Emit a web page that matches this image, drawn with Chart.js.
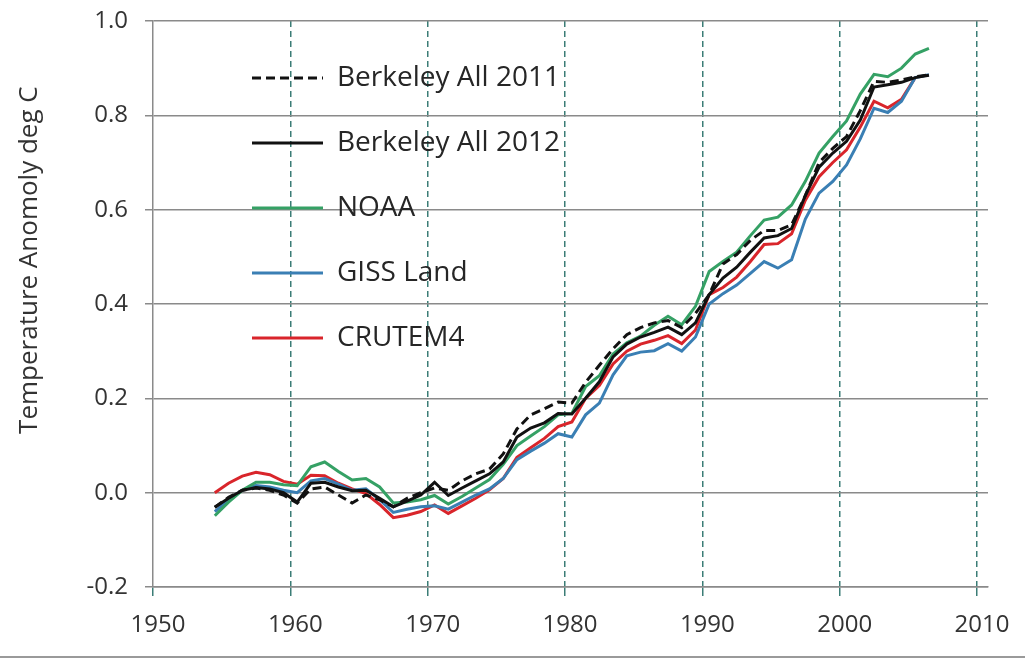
<!DOCTYPE html>
<html>
<head>
<meta charset="utf-8">
<script src="https://cdn.jsdelivr.net/npm/chart.js@4.4.0/dist/chart.umd.min.js"></script>
<style>
  body { margin: 0; background: #fff; }
  #quadro { width: 1025px; height: 656px; border-bottom: 2px solid #9a9a9a; }
</style>
</head>
<body>
<div id="quadro"><canvas id="grafico" width="1025" height="656"></canvas></div>
<script>
// anos (meio do ano) de 1954.5 a 2006.5
const anos = [
  1954.5, 1955.5, 1956.5, 1957.5, 1958.5, 1959.5, 1960.5, 1961.5, 1962.5, 1963.5,
  1964.5, 1965.5, 1966.5, 1967.5, 1968.5, 1969.5, 1970.5, 1971.5, 1972.5, 1973.5,
  1974.5, 1975.5, 1976.5, 1977.5, 1978.5, 1979.5, 1980.5, 1981.5, 1982.5, 1983.5,
  1984.5, 1985.5, 1986.5, 1987.5, 1988.5, 1989.5, 1990.5, 1991.5, 1992.5, 1993.5,
  1994.5, 1995.5, 1996.5, 1997.5, 1998.5, 1999.5, 2000.5, 2001.5, 2002.5, 2003.5,
  2004.5, 2005.5, 2006.5
];

const berkeley_2011 = [
  -0.031, -0.010, 0.005, 0.010, 0.005, -0.005, -0.022, 0.008, 0.012, -0.005,
  -0.022, -0.005, -0.015, -0.030, -0.012, 0.000, 0.010, 0.005, 0.025, 0.040,
  0.050, 0.082, 0.135, 0.165, 0.178, 0.192, 0.190, 0.234, 0.270, 0.305,
  0.335, 0.350, 0.360, 0.365, 0.350, 0.380, 0.420, 0.485, 0.505, 0.535,
  0.556, 0.556, 0.568, 0.630, 0.700, 0.730, 0.755, 0.810, 0.872, 0.870,
  0.875, 0.882, 0.886
];

const berkeley_2012 = [
  -0.031, -0.012, 0.005, 0.011, 0.008, 0.000, -0.020, 0.020, 0.022, 0.012,
  0.004, 0.005, -0.012, -0.030, -0.018, -0.005, 0.022, -0.006, 0.010, 0.025,
  0.040, 0.065, 0.118, 0.137, 0.148, 0.168, 0.167, 0.200, 0.235, 0.288,
  0.315, 0.330, 0.340, 0.351, 0.335, 0.360, 0.420, 0.455, 0.478, 0.510,
  0.540, 0.545, 0.560, 0.630, 0.690, 0.720, 0.745, 0.790, 0.860, 0.865,
  0.870, 0.880, 0.885
];

const noaa = [
  -0.049, -0.020, 0.005, 0.022, 0.022, 0.017, 0.015, 0.055, 0.065, 0.045,
  0.027, 0.030, 0.012, -0.022, -0.020, -0.015, -0.006, -0.024, -0.008, 0.010,
  0.028, 0.060, 0.100, 0.120, 0.140, 0.165, 0.168, 0.225, 0.248, 0.294,
  0.318, 0.332, 0.355, 0.374, 0.356, 0.395, 0.469, 0.490, 0.510, 0.545,
  0.578, 0.584, 0.610, 0.660, 0.720, 0.755, 0.788, 0.845, 0.887, 0.882,
  0.900, 0.930, 0.942
];

const giss_land = [
  -0.040, -0.015, 0.005, 0.015, 0.012, 0.005, 0.000, 0.025, 0.030, 0.018,
  0.005, 0.008, -0.015, -0.042, -0.035, -0.030, -0.028, -0.035, -0.020, -0.005,
  0.008, 0.030, 0.070, 0.088, 0.105, 0.125, 0.118, 0.165, 0.190, 0.250,
  0.290, 0.298, 0.301, 0.316, 0.300, 0.330, 0.400, 0.422, 0.440, 0.465,
  0.490, 0.476, 0.494, 0.580, 0.635, 0.660, 0.695, 0.750, 0.815, 0.806,
  0.830, 0.880, 0.886
];

const crutem4 = [
  0.000, 0.020, 0.035, 0.043, 0.038, 0.024, 0.018, 0.037, 0.036, 0.020,
  0.008, -0.002, -0.025, -0.053, -0.048, -0.040, -0.026, -0.044, -0.028, -0.012,
  0.006, 0.030, 0.075, 0.095, 0.115, 0.140, 0.150, 0.200, 0.227, 0.273,
  0.300, 0.315, 0.323, 0.333, 0.316, 0.345, 0.420, 0.435, 0.457, 0.490,
  0.526, 0.528, 0.549, 0.620, 0.670, 0.700, 0.727, 0.775, 0.830, 0.816,
  0.834, 0.880, null
];

const nomes_series = ['Berkeley All 2011', 'Berkeley All 2012', 'NOAA', 'GISS Land', 'CRUTEM4'];
const valores_series = [berkeley_2011, berkeley_2012, noaa, giss_land, crutem4];
const cores = ['#111111', '#111111', '#35a165', '#3a7fb4', '#d9252b'];
const tracos = [[9, 5], [], [], [], []];

const titulo_y = ' '.repeat(13) + 'Temperature Anomoly deg C';

function pontos(valores) {
    return anos.map((a, i) => ({ x: a, y: valores[i] }));
}

// legenda fica dentro da area do grafico, deslocada como no original
const posicao_legenda = {
    id: 'posicao_legenda',
    beforeDraw(chart) {
        const lg = chart.legend;
        if (!lg) return;
        lg.left = chart.chartArea.left + 62;
        lg.top = chart.chartArea.top + 6;
    }
};

function rotulos_legenda(chart) {
    const itens = Chart.defaults.plugins.legend.labels.generateLabels(chart);
    itens.forEach(item => {
        const ds = chart.data.datasets[item.datasetIndex];
        item.lineDash = ds.borderDash;
        item.lineWidth = ds.borderWidth;
        item.strokeStyle = ds.borderColor;
    });
    return itens;
}

const grafico = document.getElementById('grafico');
const cor_grade = '#8a8a8a';
const cor_vertical = '#3b7d76';

new Chart(grafico, {
    type: 'line',
    data: {
        datasets: nomes_series.map((nome, i) => ({
            label: nome,
            data: pontos(valores_series[i]),
            borderColor: cores[i],
            backgroundColor: cores[i],
            borderDash: tracos[i],
            borderWidth: 3,
            pointRadius: 0,
            tension: 0,
            fill: false
        }))
    },
    options: {
        responsive: false,
        animation: false,
        layout: { padding: { top: 21, right: 37, left: 0, bottom: 0 } },
        plugins: {
            tooltip: { enabled: false },
            legend: {
                position: 'chartArea',
                align: 'start',
                labels: {
                    usePointStyle: true,
                    pointStyle: 'line',
                    pointStyleWidth: 71,
                    padding: 37,
                    color: '#262626',
                    font: { family: 'Open Sans', size: 28 },
                    generateLabels: rotulos_legenda
                }
            }
        },
        scales: {
            x: {
                type: 'linear',
                min: 1950,
                max: 2010.8,
                afterFit: s => { s.height = 69; },
                grid: {
                    color: c => (c.tick && c.tick.value === 1950) ? 'rgba(0,0,0,0)' : cor_vertical,
                    tickColor: cor_vertical,
                    lineWidth: 1.5,
                    tickLength: 9
                },
                border: { display: true, color: cor_grade, width: 1.5, dash: [6, 4] },
                ticks: {
                    stepSize: 10,
                    includeBounds: false,
                    labelOffset: 5,
                    padding: 15,
                    color: '#333',
                    font: { family: 'Open Sans', size: 24 },
                    callback: v => String(v)
                }
            },
            y: {
                min: -0.2,
                max: 1.0,
                afterFit: s => { s.width = 153; s.paddingTop = 0; s.paddingBottom = 0; },
                grid: {
                    color: cor_grade,
                    lineWidth: 1.5,
                    tickLength: 8
                },
                border: { display: true, color: cor_grade, width: 1.5 },
                ticks: {
                    stepSize: 0.2,
                    padding: 17,
                    color: '#333',
                    font: { family: 'Open Sans', size: 24 },
                    callback: v => Math.abs(v) < 1e-9 ? '0.0' : v.toFixed(1)
                },
                title: {
                    display: true,
                    text: titulo_y,
                    color: '#333',
                    padding: { top: 14, bottom: 0 },
                    font: { family: 'Open Sans', size: 26 }
                }
            }
        }
    },
    plugins: [posicao_legenda]
});
</script>
</body>
</html>
